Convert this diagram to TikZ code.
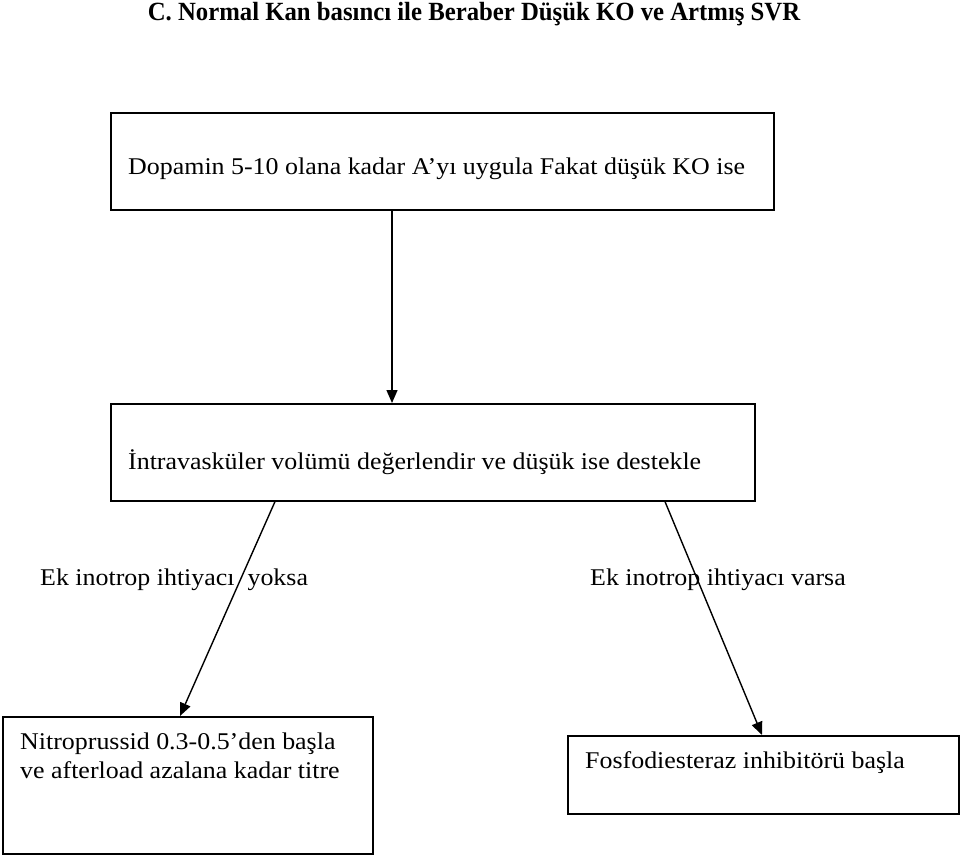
\documentclass[tikz,border=0pt]{standalone}
\usepackage{fontspec}
\usepackage{graphicx}
\setmainfont{Liberation Serif}
\usetikzlibrary{arrows.meta,calc}
\newcommand{\wtxt}[1]{\scalebox{1.08}[1]{#1}}
\begin{document}
\begin{tikzpicture}[x=1pt,y=-1pt,
  box/.style={draw=black,line width=1.6pt,inner sep=0pt,anchor=north west},
  txt/.style={anchor=base west,inner sep=0pt,font=\fontsize{24}{29}\selectfont},
  arr/.style={line width=1.4pt,-{Triangle[length=13pt,width=11pt]}}]
\useasboundingbox (0,0) rectangle (960,856);
\node[anchor=base,inner sep=0pt,font=\bfseries\fontsize{25}{30}\selectfont] (title) at (474,21) {\scalebox{0.99}[1.05]{C. Normal Kan basıncı ile Beraber Düşük KO ve Artmış SVR}};
\node[box,minimum width=663pt,minimum height=97pt] (b1) at (110,112) {};
\node[txt] (t1) at (128,174) {\wtxt{Dopamin 5-10 olana kadar A’yı uygula Fakat düşük KO ise}};
\node[box,minimum width=644pt,minimum height=97pt] (b2) at (110,403) {};
\node[txt] (t2) at (128,469) {\wtxt{İntravasküler volümü değerlendir ve düşük ise destekle}};
\node[txt] (l1) at (40,585) {\wtxt{Ek inotrop ihtiyacı\ \ yoksa}};
\node[txt] (l2) at (590,585) {\wtxt{Ek inotrop ihtiyacı varsa}};
\node[box,minimum width=370pt,minimum height=137pt] (b3) at (2,716) {};
\node[txt] (t3a) at (20,749) {\wtxt{Nitroprussid 0.3-0.5’den başla}};
\node[txt] (t3b) at (20,778) {\wtxt{ve afterload azalana kadar titre}};
\node[box,minimum width=391pt,minimum height=78pt] (b4) at (567,735) {};
\node[txt] (t4) at (585,768) {\wtxt{Fosfodiesteraz inhibitörü başla}};
\draw[arr] (b1.south west) ++(282,0) coordinate (a1) -- (a1 |- b2.north);
\draw[arr] ($(b2.south west)+(165,0)$) -- ($(b3.north west)+(178,0)$);
\draw[arr] ($(b2.south west)+(555,0)$) -- ($(b4.north west)+(195,0)$);
\end{tikzpicture}
\end{document}
